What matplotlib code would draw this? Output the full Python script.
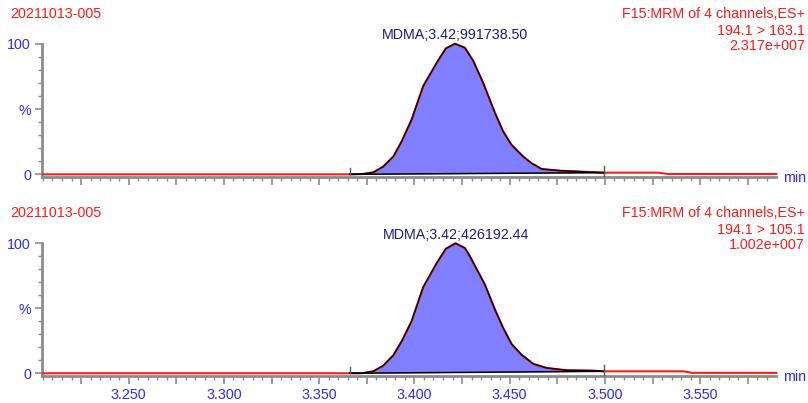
import numpy as np
import matplotlib
matplotlib.use('Agg')
import matplotlib.pyplot as plt
from matplotlib.ticker import MultipleLocator, FuncFormatter

plt.rcParams['font.family'] = ['Liberation Sans', 'DejaVu Sans']

# ---------------------------------------------------------------- data
sample_name = '20211013-005'
func_line = 'F15:MRM of 4 channels,ES+'
transitions = ['194.1 > 163.1', '194.1 > 105.1']
scale_texts = ['2.317e+007', '1.002e+007']
peak_labels = ['MDMA;3.42;991738.50', 'MDMA;3.42;426192.44']
peak_rt = [3.4213, 3.4216]

# trace 1 (194.1 > 163.1) : time (min), intensity (%)
t1 = [3.205, 3.366, 3.3723, 3.3784, 3.3836, 3.3889, 3.3933, 3.3985, 3.4046,
      3.4117, 3.4165, 3.4213, 3.4265, 3.4309, 3.4361, 3.4423, 3.4466, 3.4510,
      3.4571, 3.4615, 3.4668, 3.4764, 3.4869, 3.4991, 3.528, 3.533, 3.590]
y1 = [0.0, 0.0, 0.2, 1.5, 5.9, 13.6, 25.2, 41.8, 67.5,
      85.4, 96.4, 100.0, 96.9, 86.7, 70.0, 46.9, 32.8, 22.5,
      13.6, 8.5, 4.1, 2.8, 2.1, 1.3, 1.3, 0.3, 0.3]

# trace 2 (194.1 > 105.1)
t2 = [3.205, 3.366, 3.3723, 3.3784, 3.3836, 3.3889, 3.3933, 3.3985, 3.4046,
      3.4117, 3.4165, 3.4216, 3.4265, 3.4291, 3.4370, 3.4423, 3.4466, 3.4510,
      3.4562, 3.4624, 3.4694, 3.4799, 3.4939, 3.4991, 3.541, 3.546, 3.590]
y2 = [0.0, 0.0, 0.0, 1.5, 5.8, 13.8, 24.6, 40.0, 66.2,
      84.8, 95.8, 100.0, 96.4, 90.0, 68.2, 48.9, 34.8, 22.5,
      14.3, 7.2, 4.1, 2.3, 2.0, 1.5, 1.5, 0.3, 0.3]

# integration baseline: start / end (time, %)
base_start = [(3.366, 0.0), (3.366, 0.0)]
base_end = [(3.4995, 1.3), (3.4995, 1.5)]

x_min, x_max = 3.2045, 3.5898

RED = '#ff1a1a'
BLUE = '#2b2bff'
NAVY = '#1c1c7a'
GREY = '#8c8c8c'
FILL = '#7f7fff'
FS = 10.3

W, H = 808, 403
fig = plt.figure(figsize=(W / 100, H / 100), dpi=100)


def px(x, y):
    return x / W, 1 - y / H


def draw_panel(rect, t, y, i, show_labels, top_px):
    ax = fig.add_axes(rect)
    t = np.array(t)
    y = np.array(y)
    (ts, bs), (te, be) = base_start[i], base_end[i]

    # peak region
    m = (t >= ts) & (t <= te)
    tp = t[m]
    yp = y[m]
    bl = np.interp(tp, [ts, te], [bs, be])
    ax.fill_between(tp, bl, yp, color=FILL, lw=0, zorder=2)

    ax.plot(t, y, color=RED, lw=1.5, zorder=3, clip_on=False)
    ax.plot(tp, yp, color='#1a0000', lw=1.1, zorder=4, clip_on=False)
    ax.plot([ts, te], [bs, be], color='black', lw=1.1, zorder=4)
    # integration markers
    ax.plot([ts, ts], [bs, bs + 5.0], color='#555555', lw=1.0, zorder=5)
    ax.plot([te, te], [-1.0, 6.5], color='#555555', lw=1.0, zorder=5, clip_on=False)

    ax.annotate(peak_labels[i], xy=(peak_rt[i], 100), xytext=(0, 1),
                textcoords='offset points', ha='center', va='bottom',
                color=NAVY, fontsize=FS)

    ax.set_xlim(x_min, x_max)
    ax.set_ylim(-1.8, 100)
    for s in ['top', 'right']:
        ax.spines[s].set_visible(False)
    for s in ['left', 'bottom']:
        ax.spines[s].set_color(GREY)
        ax.spines[s].set_linewidth(2.0)

    ax.xaxis.set_major_locator(MultipleLocator(0.025))
    ax.xaxis.set_minor_locator(MultipleLocator(0.005))
    if show_labels:
        ax.xaxis.set_major_formatter(FuncFormatter(
            lambda v, p: '%.3f' % v if abs(round(v / 0.05) * 0.05 - v) < 1e-6 else ''))
    else:
        ax.xaxis.set_major_formatter(FuncFormatter(lambda v, p: ''))
    ax.tick_params(axis='x', which='major', length=6, width=1.2, color=GREY,
                   labelcolor=BLUE, labelsize=FS, pad=3)
    ax.tick_params(axis='x', which='minor', length=3, width=1.0, color=GREY)

    ax.set_yticks([0, 50, 100])
    ax.set_yticklabels(['0', '%', '100'])
    ax.yaxis.set_minor_locator(MultipleLocator(10))
    ax.tick_params(axis='y', which='major', length=5, width=1.2, color=GREY,
                   labelcolor=BLUE, labelsize=FS, pad=3)
    ax.tick_params(axis='y', which='minor', length=3, width=1.0, color=GREY)

    # header texts
    fig.text(*px(10, top_px + 14), sample_name, color=RED, fontsize=FS,
             ha='left', va='center')
    fig.text(*px(805, top_px + 14), func_line, color=RED, fontsize=FS,
             ha='right', va='center')
    fig.text(*px(805, top_px + 31), transitions[i], color=RED, fontsize=FS,
             ha='right', va='center')
    fig.text(*px(805, top_px + 46), scale_texts[i], color=RED, fontsize=FS,
             ha='right', va='center')
    return ax


# axes rectangles from pixel extents
l = 42 / W
w = (776 - 42) / W
ax1 = draw_panel([l, 1 - 176.7 / H, w, 133 / H], t1, y1, 0, False, 0)
ax2 = draw_panel([l, 1 - 375.6 / H, w, 132.3 / H], t2, y2, 1, True, 199)

fig.text(*px(783, 178), 'min', color=BLUE, fontsize=FS, ha='left', va='center')
fig.text(*px(783, 377), 'min', color=BLUE, fontsize=FS, ha='left', va='center')

fig.savefig('out.png', dpi=100)
